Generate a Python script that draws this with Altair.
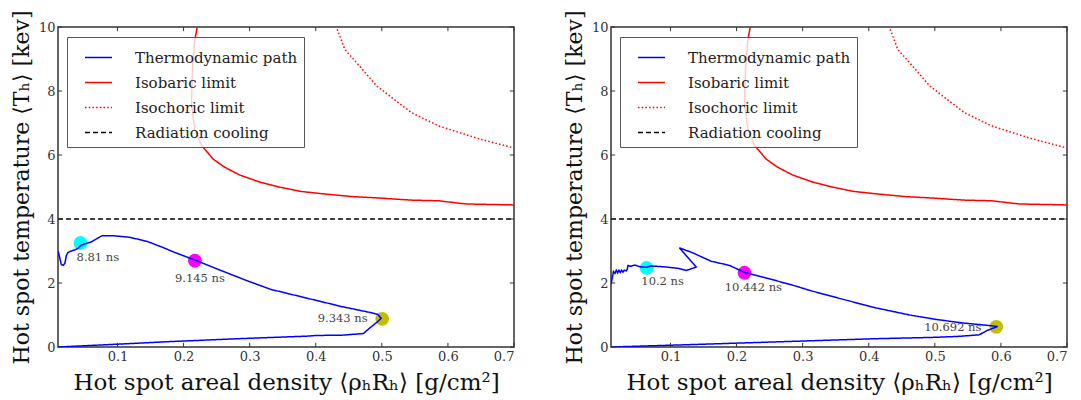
import altair as alt
import pandas as pd

# ---------------- data ----------------
series_names = ["Thermodynamic path", "Isobaric limit", "Isochoric limit", "Radiation cooling"]
series_colors = ["#0000FF", "#FF0000", "#FF0000", "#000000"]
series_dashes = [[1, 0], [1, 0], [1.5, 2.2], [5, 3]]

# isobaric limit (same in both panels)
iso_x = [0.2211, 0.2171, 0.2135, 0.2120, 0.2171, 0.2271, 0.2449, 0.2620, 0.2844, 0.3156,
         0.3468, 0.3779, 0.4143, 0.4558, 0.4922, 0.5442, 0.5857, 0.6273, 0.7000]
iso_y = [10.05, 9.60, 8.70, 7.60, 6.80, 6.30, 5.87, 5.62, 5.38, 5.15,
         4.99, 4.86, 4.78, 4.70, 4.66, 4.59, 4.57, 4.47, 4.44]

# isochoric limit
ich_x = [0.4325, 0.4440, 0.4662, 0.4922, 0.5442, 0.5857, 0.6480, 0.7000]
ich_y = [9.93, 9.30, 8.78, 8.16, 7.33, 6.91, 6.50, 6.22]

# radiation cooling
rad_x = [0.01, 0.70]
rad_y = [4.0, 4.0]

# left panel thermodynamic path
L_path_x = [0.0102, 0.0125, 0.0150, 0.0180, 0.0205, 0.0225, 0.0250, 0.0300, 0.0350, 0.0400,
            0.0450, 0.0500, 0.0600, 0.0700, 0.0770, 0.0920, 0.1180, 0.1450, 0.1700, 0.1860,
            0.2170, 0.2580, 0.2950, 0.3320, 0.3880, 0.4400, 0.4820, 0.4940, 0.4990, 0.4930,
            0.4820, 0.4720, 0.4400, 0.4000, 0.3880, 0.2840, 0.1805, 0.1026, 0.0102]
L_path_y = [3.00, 2.80, 2.58, 2.55, 2.62, 2.85, 2.95, 3.00, 3.03, 3.08,
            3.18, 3.22, 3.28, 3.40, 3.48, 3.48, 3.43, 3.30, 3.10, 2.96,
            2.72, 2.38, 2.08, 1.80, 1.52, 1.26, 1.08, 1.02, 0.90, 0.78,
            0.60, 0.42, 0.37, 0.36, 0.34, 0.26, 0.17, 0.09, 0.00]

# right panel thermodynamic path
R_path_x = [0.0102, 0.0137, 0.0160, 0.0180, 0.0200, 0.0220, 0.0240, 0.0260, 0.0280, 0.0300,
            0.0330, 0.0345, 0.0357, 0.0400, 0.0450, 0.0480, 0.0520, 0.0560, 0.0640, 0.0700,
            0.0885, 0.1112, 0.1238, 0.1390, 0.1136, 0.1339, 0.1616, 0.1893, 0.2120, 0.2499,
            0.2903, 0.3104, 0.3610, 0.4115, 0.4619, 0.5023, 0.5427, 0.5828, 0.5950, 0.5796,
            0.5670, 0.5343, 0.4965, 0.4115, 0.2900, 0.1390, 0.0102]
R_path_y = [1.97, 2.36, 2.30, 2.40, 2.32, 2.40, 2.33, 2.40, 2.34, 2.40,
            2.38, 2.42, 2.55, 2.52, 2.56, 2.55, 2.52, 2.50, 2.49, 2.53,
            2.51, 2.46, 2.39, 2.50, 3.10, 2.94, 2.68, 2.55, 2.33, 2.13,
            1.90, 1.77, 1.49, 1.22, 1.00, 0.86, 0.75, 0.67, 0.64, 0.52,
            0.38, 0.33, 0.30, 0.26, 0.18, 0.08, 0.00]

# markers
L_mark_x = [0.044, 0.2171, 0.5006]
L_mark_y = [3.25, 2.70, 0.88]
R_mark_x = [0.0639, 0.2120, 0.5930]
R_mark_y = [2.47, 2.32, 0.63]
mark_colors = ["#00FFFF", "#FF00FF", "#BFBF00"]

# time labels
L_lab_text = ["8.81 ns", "9.145 ns", "9.343 ns"]
L_lab_x = [0.0381, 0.2247, 0.4784]
L_lab_y = [2.78, 2.13, 0.88]
R_lab_text = ["10.2 ns", "10.442 ns", "10.692 ns"]
R_lab_x = [0.0559, 0.2254, 0.5705]
R_lab_y = [2.03, 1.84, 0.59]
lab_align = ["left", "center", "right"]

x_ticks = [0.1, 0.2, 0.3, 0.4, 0.5, 0.6, 0.7]
y_ticks = [0, 2, 4, 6, 8, 10]
x_domain = [0.01, 0.7]
y_domain = [0, 10]

SERIF = "DejaVu Serif"
W, H = 456, 320


def panel(path_x, path_y, mk_x, mk_y, lb_text, lb_x, lb_y):
    rows = []
    for name, xs, ys in [(series_names[0], path_x, path_y),
                         (series_names[1], iso_x, iso_y),
                         (series_names[2], ich_x, ich_y),
                         (series_names[3], rad_x, rad_y)]:
        for i, (a, b) in enumerate(zip(xs, ys)):
            rows.append({"series": name, "x": a, "y": b, "order": i})
    df = pd.DataFrame(rows)

    xs = alt.Scale(domain=x_domain, nice=False, zero=False)
    ys = alt.Scale(domain=y_domain, nice=False, zero=False)
    xaxis = alt.Axis(values=x_ticks, format=".1f", titlePadding=8, titleFontSize=23,
                     title="Hot spot areal density ⟨ρₕRₕ⟩ [g/cm²]")
    yaxis = alt.Axis(values=y_ticks, format="d", titlePadding=5, titleFontSize=22,
                     title="Hot spot temperature ⟨Tₕ⟩ [kev]")

    legend = alt.Legend(
        title=None, orient="none", legendX=9, legendY=10,
        symbolType="stroke", symbolSize=729, symbolStrokeWidth=1.5,
        symbolOffset=11, labelOffset=22,
        labelFont=SERIF, labelFontSize=15, labelColor="#222",
        fillColor="rgba(255,255,255,0.8)", strokeColor="#555",
        padding=6, rowPadding=2, labelLimit=400,
    )

    mk = pd.DataFrame({"x": mk_x, "y": mk_y, "c": mark_colors})
    markers = alt.Chart(mk).mark_circle(size=190, opacity=1).encode(
        x=alt.X("x:Q", scale=xs, axis=xaxis),
        y=alt.Y("y:Q", scale=ys, axis=yaxis),
        fill=alt.Fill("c:N", scale=None),
    )

    lines = alt.Chart(df).mark_line(strokeWidth=1.5, clip=True).encode(
        x=alt.X("x:Q", scale=xs, axis=xaxis),
        y=alt.Y("y:Q", scale=ys, axis=yaxis),
        color=alt.Color("series:N", scale=alt.Scale(domain=series_names, range=series_colors),
                        legend=legend),
        strokeDash=alt.StrokeDash("series:N", scale=alt.Scale(domain=series_names, range=series_dashes),
                                  legend=legend),
        detail="series:N",
        order="order:Q",
    )

    lb = pd.DataFrame({"x": lb_x, "y": lb_y, "t": lb_text, "a": lab_align})
    texts = []
    for a in ["left", "center", "right"]:
        texts.append(
            alt.Chart(lb).transform_filter(alt.datum.a == a).mark_text(
                align=a, baseline="middle", font=SERIF, fontSize=11.5, color="#444"
            ).encode(x=alt.X("x:Q", scale=xs), y=alt.Y("y:Q", scale=ys), text="t:N")
        )

    tx = pd.DataFrame({"t": x_ticks})
    ty = pd.DataFrame({"t": y_ticks})
    tick_style = dict(color="#333", strokeWidth=1)
    t_bottom = alt.Chart(tx).mark_rule(**tick_style).encode(
        x=alt.X("t:Q", scale=xs), y=alt.datum(0), y2=alt.datum(0.13))
    t_top = alt.Chart(tx).mark_rule(**tick_style).encode(
        x=alt.X("t:Q", scale=xs), y=alt.datum(10), y2=alt.datum(9.87))
    t_left = alt.Chart(ty).mark_rule(**tick_style).encode(
        y=alt.Y("t:Q", scale=ys), x=alt.datum(0.01), x2=alt.datum(0.0162))
    t_right = alt.Chart(ty).mark_rule(**tick_style).encode(
        y=alt.Y("t:Q", scale=ys), x=alt.datum(0.7), x2=alt.datum(0.6938))

    return alt.layer(markers, lines, *texts, t_bottom, t_top, t_left, t_right).properties(
        width=W, height=H)


left = panel(L_path_x, L_path_y, L_mark_x, L_mark_y, L_lab_text, L_lab_x, L_lab_y)
right = panel(R_path_x, R_path_y, R_mark_x, R_mark_y, R_lab_text, R_lab_x, R_lab_y)

chart = alt.hconcat(left, right, spacing=46).resolve_scale(
    color="independent", strokeDash="independent"
).resolve_legend(
    color="independent", strokeDash="independent"
).properties(
    padding={"left": 1, "top": 1, "right": 0, "bottom": 0}
).configure_view(
    stroke="#333", strokeWidth=1.5
).configure_axis(
    grid=False, domain=False, ticks=False, tickSize=0,
    labelFont=SERIF, labelFontSize=13, labelColor="#333", labelPadding=3,
    titleFont=SERIF, titleFontWeight="normal", titleColor="#111",
)

chart.save("out.html", embed_options={"renderer": "svg", "actions": False})
